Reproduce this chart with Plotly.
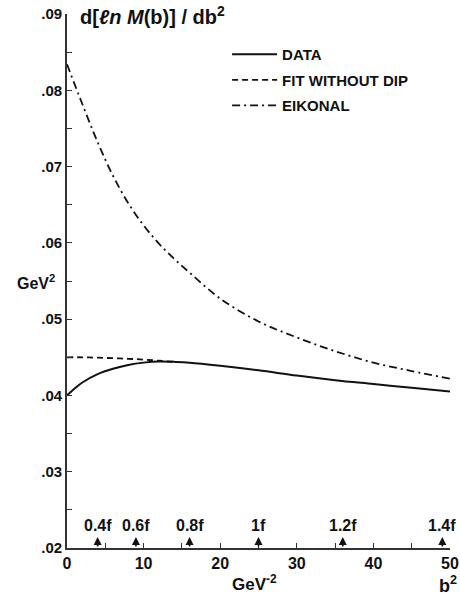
import plotly.graph_objects as go

# ---- data ----
data_b2 = [0, 1, 2, 4, 6, 8, 10, 12, 14, 16, 20, 25, 30, 35, 40, 45, 50]
data_val = [0.0400, 0.0409, 0.0417, 0.0428, 0.0435, 0.0440, 0.0443, 0.04445, 0.0444,
            0.0443, 0.0439, 0.0433, 0.0426, 0.0420, 0.0415, 0.0410, 0.0405]

fit_b2 = [0, 2, 4, 6, 8, 10, 12, 14]
fit_val = [0.0450, 0.04500, 0.04495, 0.04488, 0.04480, 0.04470, 0.04455, 0.0444]

eik_b2 = [0, 2, 4, 6, 8, 10, 12, 14, 16, 20, 25, 30, 35, 40, 45, 50]
eik_val = [0.0834, 0.0782, 0.0732, 0.0688, 0.0652, 0.0623, 0.0599, 0.0579, 0.0561,
           0.0527, 0.0497, 0.0476, 0.0458, 0.0443, 0.0432, 0.0422]

series_names = ["DATA", "FIT WITHOUT DIP", "EIKONAL"]

y_tickvals = [0.02, 0.025, 0.03, 0.035, 0.04, 0.045, 0.05, 0.055, 0.06, 0.065,
              0.07, 0.075, 0.08, 0.085, 0.09]
y_ticktext = [".02", "", ".03", "", ".04", "", ".05", "", ".06", "", ".07", "", ".08", "", ".09"]
x_tickvals = [0, 5, 10, 15, 20, 25, 30, 35, 40, 45, 50]
x_ticktext = ["0", "", "10", "", "20", "", "30", "", "40", "", "50"]

arrow_b2 = [4, 9, 16, 25, 36, 49]
arrow_labels = ["0.4f", "0.6f", "0.8f", "1f", "1.2f", "1.4f"]

FONT = "Liberation Sans"
BLACK = "#111111"

fig = go.Figure()
fig.add_trace(go.Scatter(x=data_b2, y=data_val, mode="lines", name=series_names[0],
                         legendgroup="a", line=dict(color=BLACK, width=2, shape="spline")))
fig.add_trace(go.Scatter(x=fit_b2, y=fit_val, mode="lines", name=series_names[1],
                         legendgroup="b", line=dict(color=BLACK, width=1.8, dash="6px,4px", shape="spline")))
fig.add_trace(go.Scatter(x=eik_b2, y=eik_val, mode="lines", name=series_names[2],
                         legendgroup="c", line=dict(color=BLACK, width=1.8, dash="8px,4px,2px,4px", shape="spline")))

annotations = []
for xv, lab in zip(arrow_b2, arrow_labels):
    annotations.append(dict(x=xv, y=0.02145, ax=xv, ay=0.0200, xref="x", yref="y",
                            axref="x", ayref="y", text="", showarrow=True,
                            arrowhead=2, arrowsize=1.0, arrowwidth=1.6, arrowcolor=BLACK))
    annotations.append(dict(x=xv, y=0.0229, xref="x", yref="y", text=lab, showarrow=False,
                            xanchor="center", yanchor="middle",
                            font=dict(family=FONT, size=16, color=BLACK, weight="bold")))

annotations += [
    dict(x=0.029, y=0.997, xref="paper", yref="paper", xanchor="left", yanchor="middle",
         text="d[<i>ℓn</i> <i>M</i>(b)] / db<sup>2</sup>", showarrow=False,
         font=dict(family=FONT, size=20, color=BLACK, weight="bold")),
    dict(x=0, y=0.0549, xref="paper", yref="y", xanchor="right", yanchor="middle", xshift=-10,
         text="GeV<sup>2</sup>", showarrow=False,
         font=dict(family=FONT, size=16, color=BLACK, weight="bold")),
    dict(x=24.5, y=-0.0655, xref="x", yref="paper", xanchor="center", yanchor="middle",
         text="GeV<sup>-2</sup>", showarrow=False,
         font=dict(family=FONT, size=17, color=BLACK, weight="bold")),
    dict(x=49.7, y=-0.0685, xref="x", yref="paper", xanchor="center", yanchor="middle",
         text="b<sup>2</sup>", showarrow=False,
         font=dict(family=FONT, size=18, color=BLACK, weight="bold")),
]

fig.update_layout(
    width=460, height=599, autosize=False,
    margin=dict(l=67, r=10, t=14.4, b=50.5, pad=0),
    paper_bgcolor="white", plot_bgcolor="white",
    font=dict(family=FONT, color=BLACK),
    showlegend=True,
    legend=dict(x=0.418, y=0.955, xanchor="left", yanchor="top", bgcolor="rgba(0,0,0,0)",
                font=dict(family=FONT, size=15, color=BLACK, weight="bold"),
                tracegroupgap=3, itemwidth=45),
    annotations=annotations,
)
fig.update_xaxes(range=[0, 50], showgrid=False, zeroline=False, showline=True, automargin=False,
                 linecolor="#333333", linewidth=1.8, ticks="inside", ticklen=5,
                 tickcolor="#333333", tickwidth=1.2, tickvals=x_tickvals, ticktext=x_ticktext,
                 tickfont=dict(family=FONT, size=16, color=BLACK, weight="bold"))
fig.update_yaxes(range=[0.02, 0.09], showgrid=False, zeroline=False, showline=True, automargin=False,
                 linecolor="#333333", linewidth=1.8, ticks="inside", ticklen=5,
                 tickcolor="#333333", tickwidth=1.2, tickvals=y_tickvals, ticktext=y_ticktext,
                 tickfont=dict(family=FONT, size=15, color=BLACK, weight="bold"))

# remove the browser's default 8px body margin so the figure sits at the page origin
fig.write_html("out.html", config={"displayModeBar": False},
               post_script="document.body.style.margin='0';")
